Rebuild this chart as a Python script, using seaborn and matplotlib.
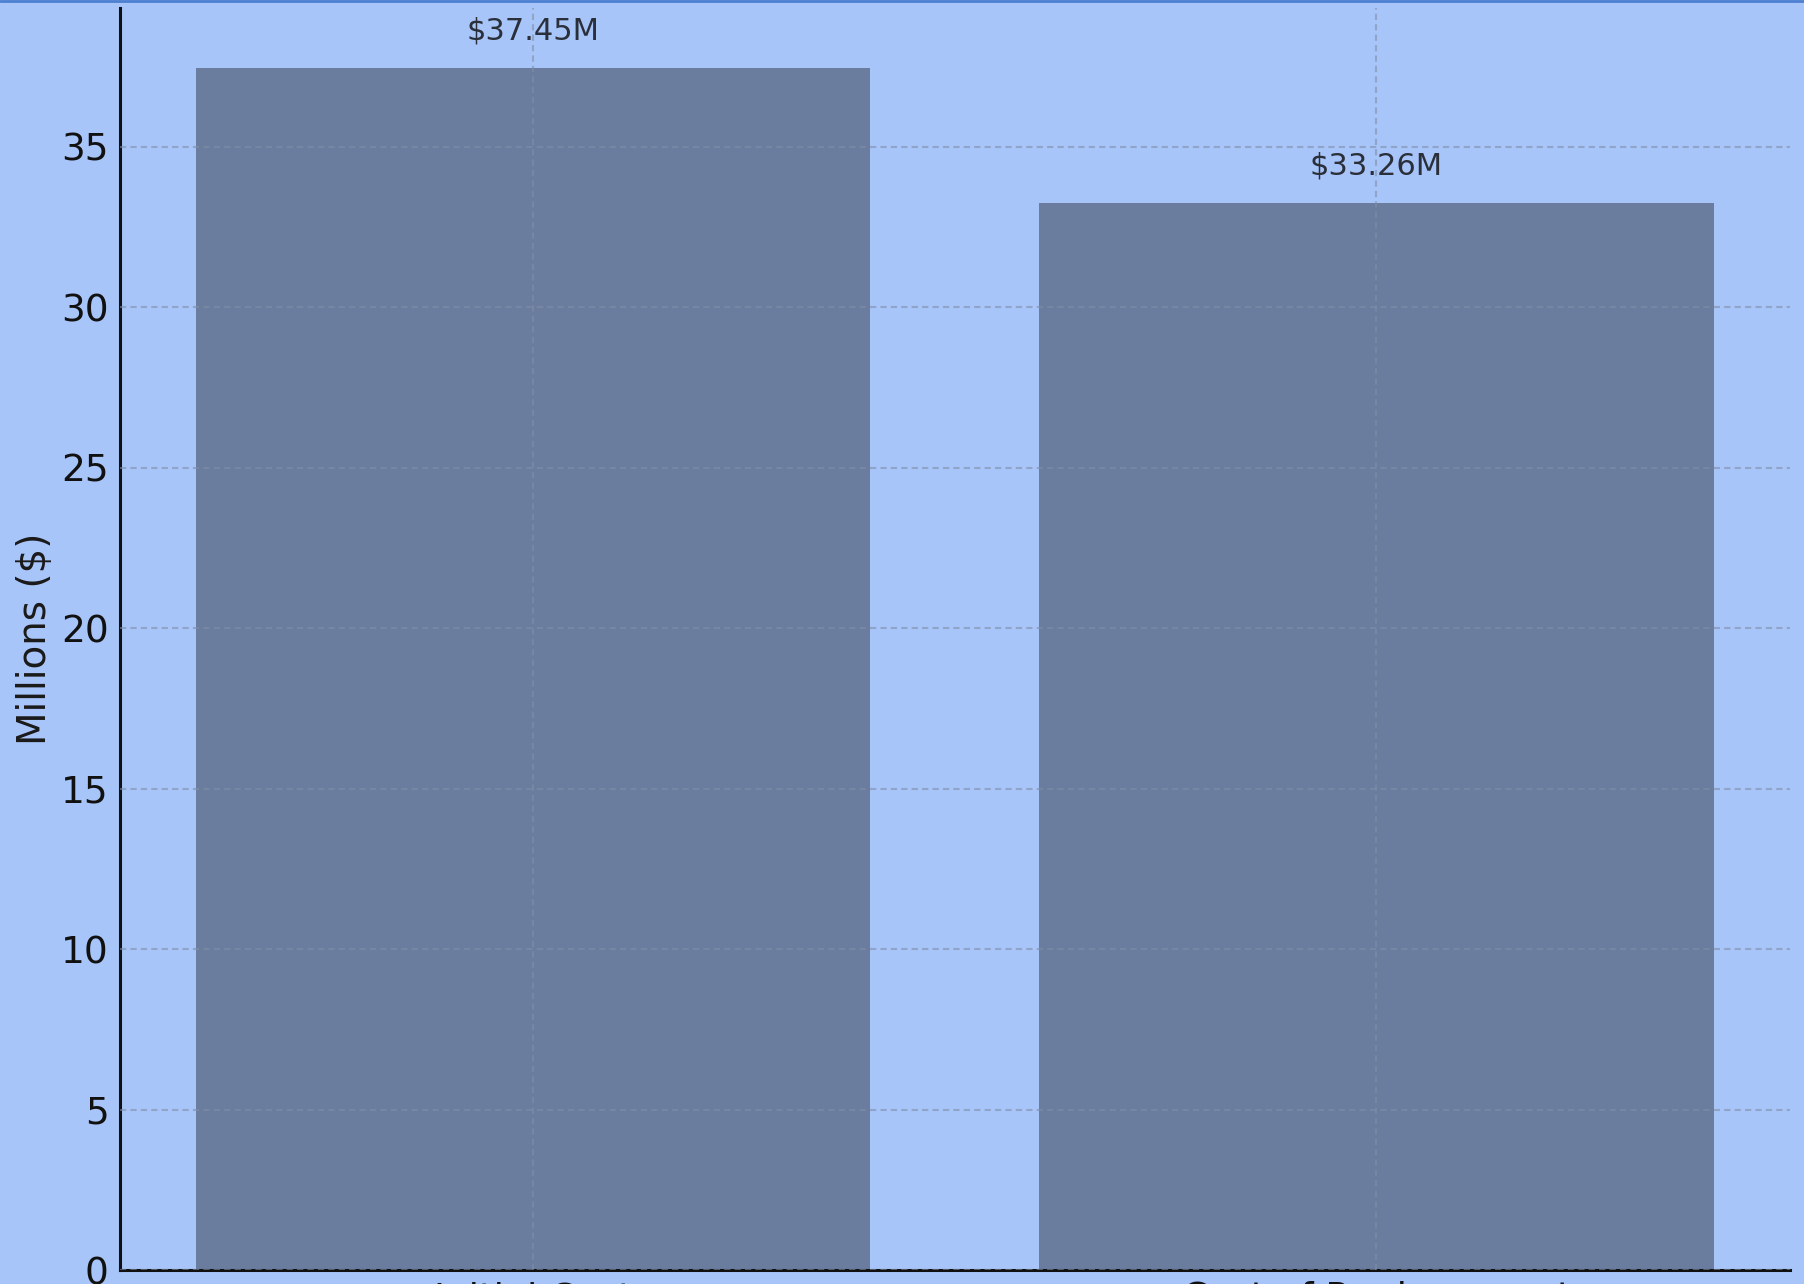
import matplotlib
matplotlib.use("Agg")
import matplotlib.pyplot as plt
import seaborn as sns
from matplotlib.lines import Line2D

# Data
categories = ["Initial Cost", "Cost of Replacement"]
values_musd = [37.45, 33.26]
value_labels = ["$37.45M", "$33.26M"]

BG = "#a8c5f9"
BAR = "#6a7d9f"

sns.set_theme(style="whitegrid")
plt.rcParams["font.family"] = ["DejaVu Sans"]

fig = plt.figure(figsize=(18.04, 12.84), dpi=100)
fig.patch.set_facecolor(BG)
ax = fig.add_axes([0.0665, 0.0109, 0.9255, 0.9829])
ax.set_facecolor(BG)

sns.barplot(x=categories, y=values_musd, color=BAR, saturation=1, width=0.8,
            linewidth=0, ax=ax)

ax.set_xlim(-0.49, 1.49)
ax.set_ylim(0, max(values_musd) * 1.05)
ax.set_ylabel("Millions ($)", fontsize=28, color="#1a1a1a", labelpad=5)
ax.set_xlabel("")

# grid drawn over the bars, faint dashed
ax.set_axisbelow(False)
ax.grid(True, linestyle=(0, (3, 2)), color="#7f8ea8", alpha=0.6, linewidth=1.5)

for side in ["top", "right"]:
    ax.spines[side].set_visible(False)
for side in ["left", "bottom"]:
    ax.spines[side].set_color("#111111")
    ax.spines[side].set_linewidth(2.2)

ax.tick_params(axis="both", direction="in", length=8, width=2, colors="#111111",
               labelsize=27, pad=8)

for i, (v, lab) in enumerate(zip(values_musd, value_labels)):
    ax.annotate(lab, (i, v), xytext=(0, 16), textcoords="offset points",
                ha="center", va="bottom", fontsize=22, color="#2a2f3a")

# thin darker line along the top edge
fig.add_artist(Line2D([0, 1], [0.999, 0.999], transform=fig.transFigure,
                      color="#4d7fd0", linewidth=2))

fig.savefig("out.png", dpi=100, facecolor=BG)
